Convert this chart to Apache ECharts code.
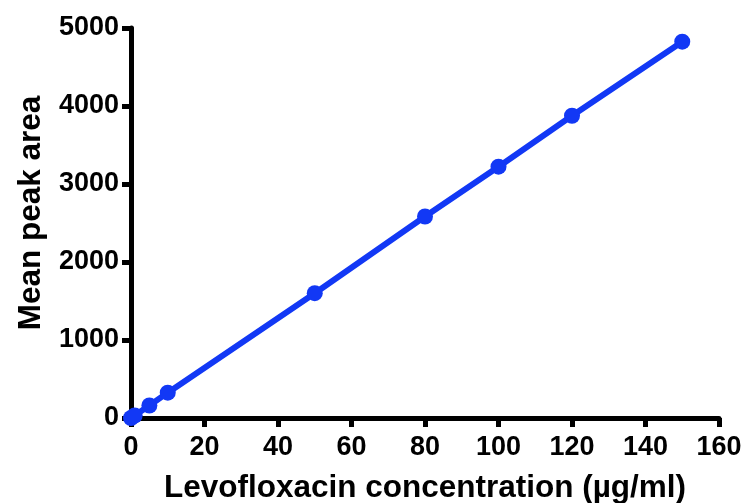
<!DOCTYPE html>
<html>
<head>
<meta charset="utf-8">
<script src="https://cdn.jsdelivr.net/npm/echarts@6/dist/echarts.min.js"></script>
<style>
	html, body { margin: 0; padding: 0; background: #fff; }
	#chart { width: 747px; height: 503px; }
</style>
</head>
<body>
<div id="chart"></div>
<script>
var concentration = [0, 1, 5, 10, 50, 80, 100, 120, 150];
var peakArea = [0, 32, 160, 325, 1600, 2583, 3222, 3875, 4825];

var chart = echarts.init(document.getElementById('chart'));

var fontName = 'Liberation Sans, Arial, sans-serif';

var option = {
	animation: false,
	grid: {
		left: 131,
		right: 28,
		top: 28,
		bottom: 85,
		outerBoundsMode: 'none'
	},
	xAxis: {
		type: 'value',
		min: 0,
		max: 160,
		interval: 20,
		name: 'Levofloxacin concentration (µg/ml)',
		nameLocation: 'middle',
		nameGap: 54,
		nameTextStyle: {
			fontFamily: fontName,
			fontWeight: 'bold',
			fontSize: 31.5,
			color: '#000'
		},
		splitLine: { show: false },
		axisLine: { lineStyle: { color: '#000', width: 5 } },
		axisTick: { length: 9, lineStyle: { color: '#000', width: 5 } },
		axisLabel: {
			margin: 16,
			fontFamily: fontName,
			fontWeight: 'bold',
			fontSize: 27,
			color: '#000',
			formatter: function(v) { return String(v); }
		}
	},
	yAxis: {
		type: 'value',
		min: 0,
		max: 5000,
		interval: 1000,
		name: 'Mean peak area',
		nameLocation: 'middle',
		nameGap: 84,
		nameTextStyle: {
			fontFamily: fontName,
			fontWeight: 'bold',
			fontSize: 31.5,
			color: '#000',
			padding: [0, 0, 0, 20]
		},
		splitLine: { show: false },
		axisLine: { show: true, lineStyle: { color: '#000', width: 5 } },
		axisTick: { show: true, length: 9, lineStyle: { color: '#000', width: 5 } },
		axisLabel: {
			margin: 12,
			fontFamily: fontName,
			fontWeight: 'bold',
			fontSize: 27,
			color: '#000',
			formatter: function(v) { return String(v); }
		}
	},
	series: [{
		type: 'line',
		data: concentration.map(function(x, i) {
			return [x, peakArea[i]];
		}),
		symbol: 'circle',
		symbolSize: 16,
		lineStyle: { color: '#1238f5', width: 6 },
		itemStyle: { color: '#1238f5' }
	}]
};

chart.setOption(option);
</script>
</body>
</html>
